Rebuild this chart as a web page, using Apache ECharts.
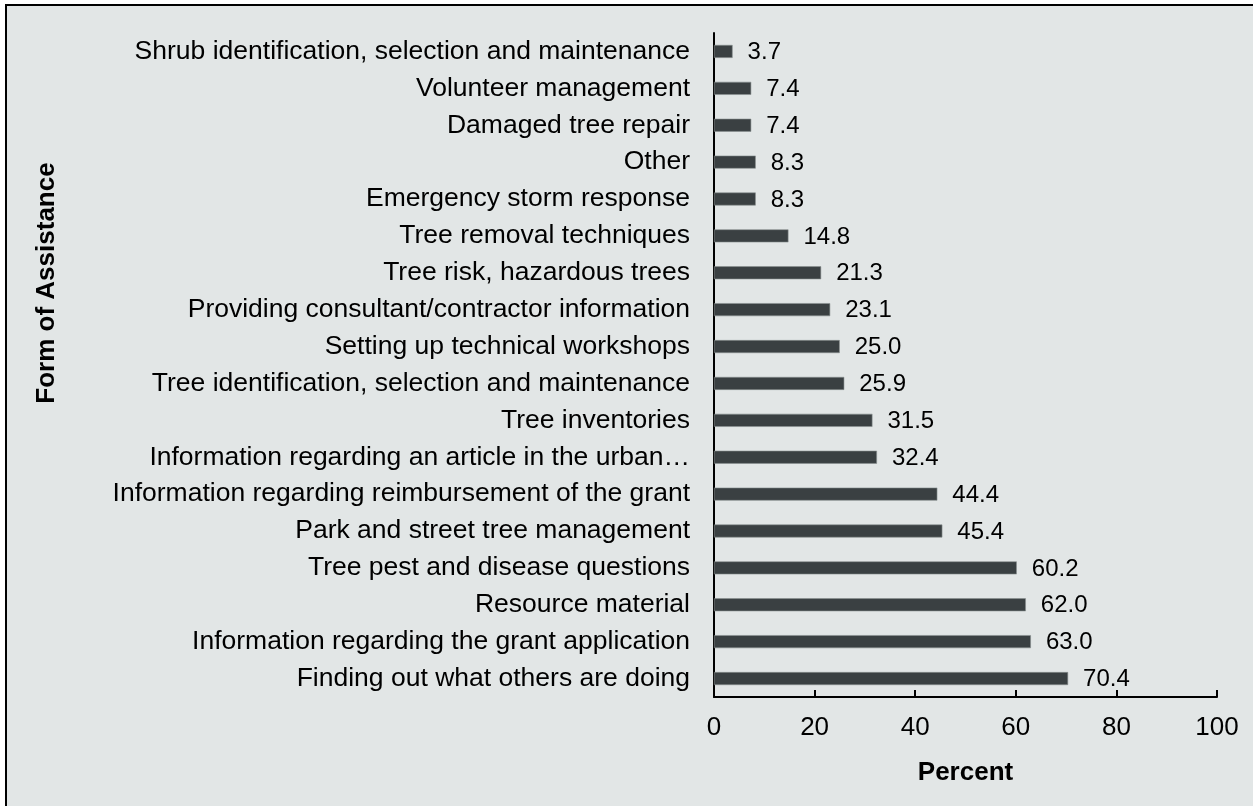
<!DOCTYPE html>
<html>
<head>
<meta charset="utf-8">
<script src="https://cdn.jsdelivr.net/npm/echarts@6/dist/echarts.min.js"></script>
<style>
  html, body { margin: 0; padding: 0; background: #ffffff; }
  #chart { width: 1253px; height: 806px; }
</style>
</head>
<body>
<div id="chart"></div>
<script>
// categories, top to bottom
const categories = [
  'Shrub identification, selection and maintenance',
  'Volunteer management',
  'Damaged tree repair',
  'Other',
  'Emergency storm response',
  'Tree removal techniques',
  'Tree risk, hazardous trees',
  'Providing consultant/contractor information',
  'Setting up technical workshops',
  'Tree identification, selection and maintenance',
  'Tree inventories',
  'Information regarding an article in the urban\u2026',
  'Information regarding reimbursement of the grant',
  'Park and street tree management',
  'Tree pest and disease questions',
  'Resource material',
  'Information regarding the grant application',
  'Finding out what others are doing'
];
const percents = [3.7, 7.4, 7.4, 8.3, 8.3, 14.8, 21.3, 23.1, 25.0, 25.9, 31.5, 32.4, 44.4, 45.4, 60.2, 62.0, 63.0, 70.4];
const xTicks = [0, 20, 40, 60, 80, 100];

const font = '"Liberation Sans", Arial, sans-serif';
const chart = echarts.init(document.getElementById('chart'));

chart.setOption({
  animation: false,
  backgroundColor: '#ffffff',
  graphic: [
    {
      type: 'rect',
      z: -10,
      shape: { x: 6, y: 5, width: 1300, height: 900 },
      style: { fill: '#e2e6e6', stroke: '#000000', lineWidth: 2 }
    },
    {
      type: 'text',
      x: 47,
      y: 283,
      rotation: Math.PI / 2,
      style: {
        text: 'Form of Assistance',
        font: 'bold 26px ' + font,
        fill: '#000000',
        align: 'center',
        verticalAlign: 'middle'
      }
    }
  ],
  grid: { left: 714, right: 36, top: 33, bottom: 109, containLabel: false },
  xAxis: {
    type: 'value',
    min: xTicks[0],
    max: xTicks[xTicks.length - 1],
    interval: 20,
    name: 'Percent',
    nameLocation: 'middle',
    nameGap: 63,
    nameTextStyle: { fontFamily: font, fontSize: 26, fontWeight: 'bold', color: '#000' },
    axisLine: { show: true, lineStyle: { color: '#000', width: 2 } },
    axisTick: { show: true, inside: true, length: 7, lineStyle: { color: '#000', width: 2 } },
    axisLabel: { fontFamily: font, fontSize: 26, color: '#000', margin: 18 },
    splitLine: { show: false }
  },
  yAxis: {
    type: 'category',
    data: categories,
    inverse: true,
    axisLine: { show: true, lineStyle: { color: '#000', width: 2 } },
    axisTick: { show: false },
    axisLabel: { fontFamily: font, fontSize: 26.5, color: '#000', margin: 24 }
  },
  series: [{
    type: 'bar',
    data: percents,
    barWidth: 13,
    itemStyle: { color: '#3a4042', borderColor: '#8a9090', borderWidth: 0.6 },
    label: {
      show: true,
      position: 'right',
      distance: 15,
      fontFamily: font,
      fontSize: 24,
      color: '#000',
      offset: [0, 1],
      formatter: p => p.value.toFixed(1)
    }
  }]
});
</script>
</body>
</html>
